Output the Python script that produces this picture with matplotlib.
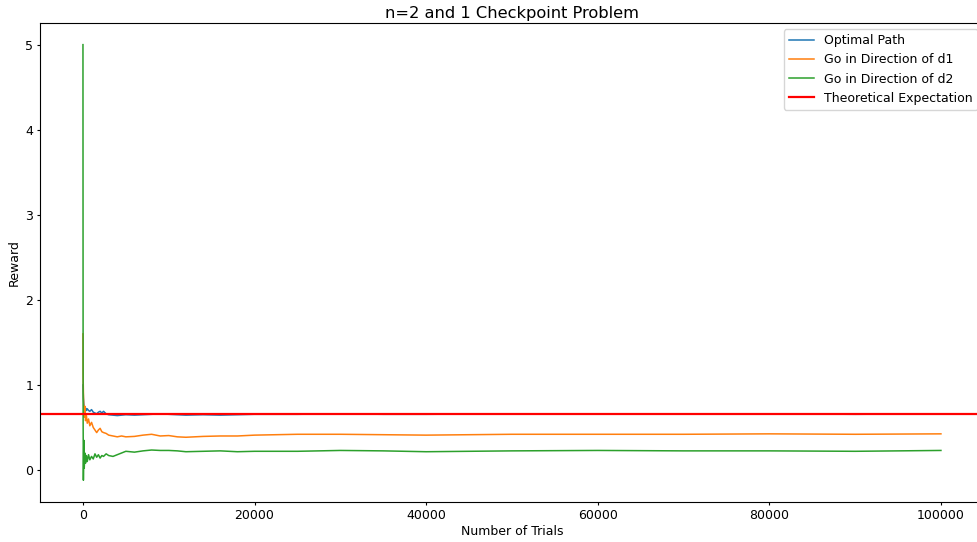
import matplotlib.pyplot as plt

# running average of reward
trials = [1, 20, 50, 100, 150, 220, 300, 400, 500, 650, 800, 1000, 1200, 1400, 1600, 1800,
          2000, 2200, 2400, 2700, 3000, 3500, 4000, 4500, 5000, 6000, 7000, 8000, 9000,
          10000, 11000, 12000, 14000, 16000, 18000, 20000, 25000, 30000, 35000, 40000,
          50000, 60000, 70000, 80000, 90000, 100000]

optimal = [1.00, 0.95, 0.85, 0.78, 0.74, 0.72, 0.73, 0.70, 0.72, 0.70, 0.69, 0.71, 0.68,
           0.67, 0.66, 0.68, 0.69, 0.67, 0.69, 0.66, 0.65, 0.645, 0.64, 0.645, 0.65, 0.645,
           0.65, 0.655, 0.66, 0.655, 0.65, 0.645, 0.65, 0.645, 0.65, 0.655, 0.655, 0.66,
           0.655, 0.655, 0.66, 0.66, 0.66, 0.66, 0.655, 0.66]

dir_d1 = [1.60, 1.10, 0.92, 0.70, 0.62, 0.75, 0.58, 0.64, 0.55, 0.60, 0.52, 0.56, 0.50,
          0.47, 0.44, 0.47, 0.49, 0.45, 0.44, 0.43, 0.41, 0.40, 0.39, 0.40, 0.39, 0.395,
          0.41, 0.42, 0.40, 0.405, 0.39, 0.385, 0.395, 0.40, 0.40, 0.41, 0.42, 0.42,
          0.415, 0.41, 0.42, 0.42, 0.42, 0.425, 0.42, 0.425]

dir_d2 = [5.00, 0.60, -0.12, 0.35, 0.02, 0.20, 0.08, 0.17, 0.10, 0.18, 0.12, 0.16, 0.13,
          0.19, 0.15, 0.18, 0.14, 0.17, 0.16, 0.19, 0.17, 0.16, 0.18, 0.20, 0.22, 0.21,
          0.225, 0.235, 0.23, 0.23, 0.225, 0.215, 0.22, 0.225, 0.215, 0.22, 0.22, 0.23,
          0.225, 0.215, 0.225, 0.23, 0.225, 0.225, 0.22, 0.23]

expectation = 0.656

fig = plt.figure(figsize=(9.77, 5.42), dpi=100)
# right spine sits just past the image edge, as in the reference
ax = fig.add_axes([0.041, 0.0738, 0.966, 0.884])

ax.plot(trials, optimal, color='#1f77b4', lw=1.1, label='Optimal Path')
ax.plot(trials, dir_d1, color='#ff7f0e', lw=1.1, label='Go in Direction of d1')
ax.plot(trials, dir_d2, color='#2ca02c', lw=1.1, label='Go in Direction of d2')
ax.axhline(expectation, color='red', lw=1.6, label='Theoretical Expectation')

ax.set_xlim(-5000, 105000)
ax.set_ylim(-0.376, 5.256)
ax.set_title('n=2 and 1 Checkpoint Problem', fontsize=11.7, pad=3.5)
ax.set_xlabel('Number of Trials', fontsize=9, labelpad=2.5)
ax.set_ylabel('Reward', fontsize=9, labelpad=3)
ax.tick_params(labelsize=9, length=2.5, pad=2.5)
ax.legend(loc='upper right', fontsize=9)

fig.savefig('out.png', dpi=100)
